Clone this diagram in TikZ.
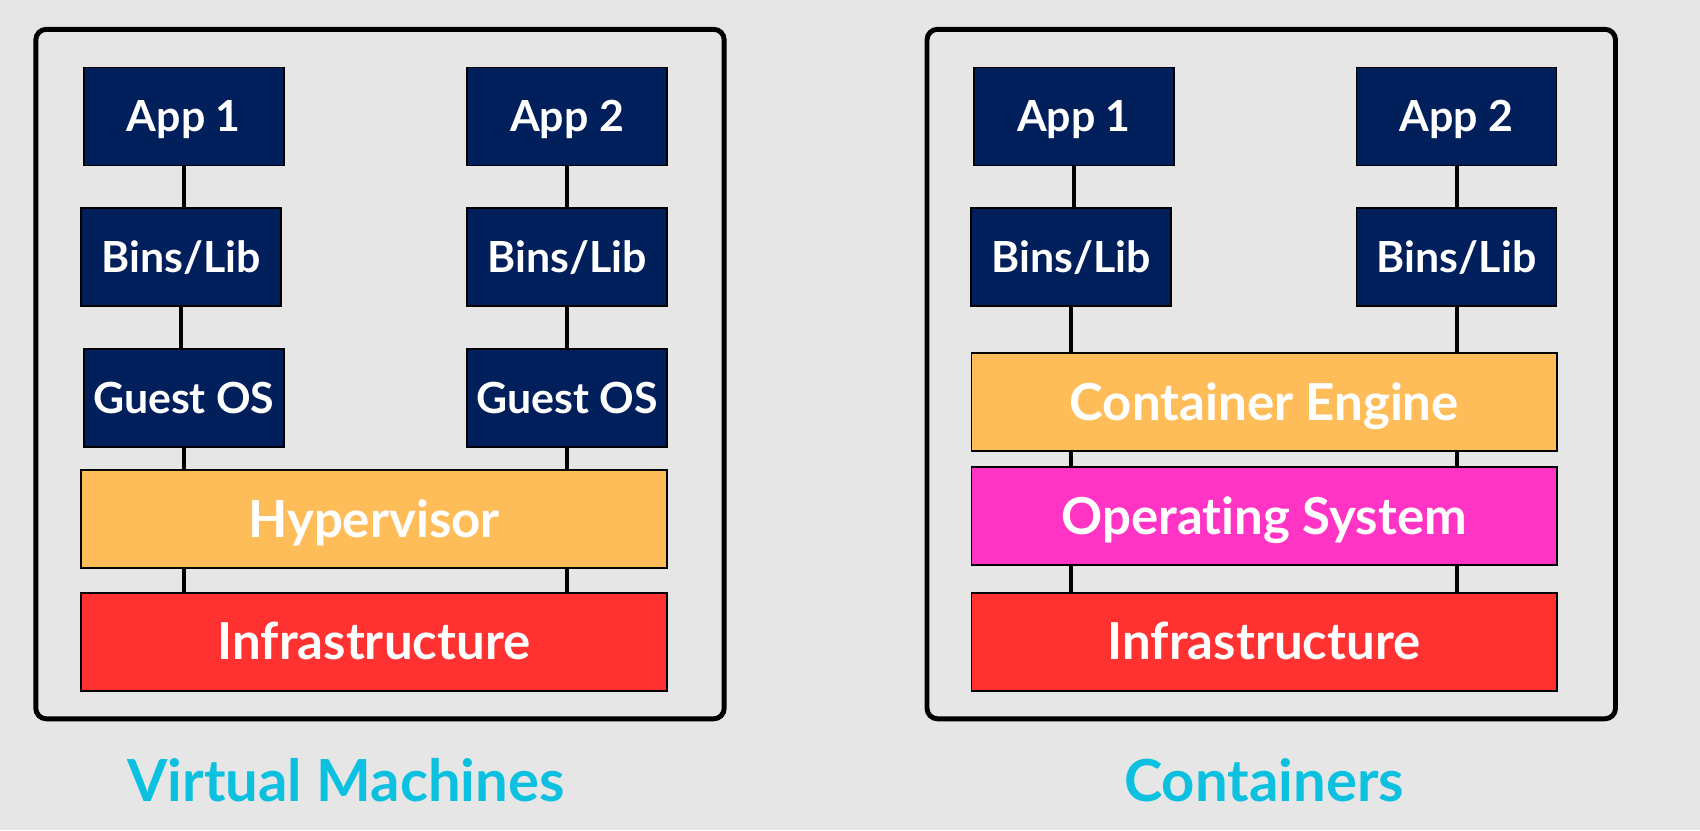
\documentclass[tikz,border=0pt]{standalone}
\usepackage{fontspec}
\setmainfont{Lato}[Ligatures=NoCommon]
\usepackage{tikz}
\usetikzlibrary{positioning}
\definecolor{bggray}{HTML}{E6E6E6}
\definecolor{navy}{HTML}{001F5B}
\definecolor{hypfill}{HTML}{FFBD59}
\definecolor{osfill}{HTML}{FF33C4}
\definecolor{infill}{HTML}{FF3131}
\definecolor{capcyan}{HTML}{0CC0DF}
\tikzset{
    layerbox/.style={draw=black, line width=0.5pt, text=white, font=\bfseries\fontsize{12.2}{14}\selectfont,
        minimum width=2cm, minimum height=0.98cm, inner sep=0pt, fill=navy,
        text height=8.7pt, text depth=0pt},
    widebox/.style={layerbox, minimum width=5.855cm, font=\bfseries\fontsize{14.5}{16}\selectfont,
        text height=10.2pt},
    frame/.style={draw=black, line width=1.4pt, rounded corners=3pt},
    caption/.style={text=capcyan, font=\bfseries\fontsize{16.5}{18}\selectfont},
    link/.style={draw=black, line width=1.1pt}
}
\begin{document}
\begin{tikzpicture}
    [x=1cm,y=1cm]
    \fill[bggray] (0,0) rectangle (17,8.3);
    \useasboundingbox (0,0) rectangle (17,8.3);
    % virtual machines
    \draw[frame] (0.358,1.112) rectangle (7.242,8.007);
    \node[layerbox] (vmapp1) at (1.838,7.135) {App 1};
    \node[layerbox] (vmapp2) at (5.67,7.135) {App 2};
    \node[layerbox] (vmbin1) at (1.81,5.73) {Bins/Lib};
    \node[layerbox] (vmbin2) at (5.67,5.73) {Bins/Lib};
    \node[layerbox] (vmos1) at (1.838,4.321) {Guest OS};
    \node[layerbox] (vmos2) at (5.67,4.321) {Guest OS};
    \node[widebox, fill=hypfill] (hyp) at (3.74,3.107) {Hypervisor};
    \node[widebox, fill=infill] (vminf) at (3.74,1.882) {Infrastructure};
    \foreach \i in {1,2} {
        \draw[link] (vmapp\i.south) -- (vmapp\i.south |- vmbin\i.north);
        \draw[link] (vmbin\i.south) -- (vmbin\i.south |- vmos\i.north);
        \draw[link] (vmos\i.south) -- (vmos\i.south |- hyp.north);
        \draw[link] (vmos\i.south |- hyp.south) -- (vmos\i.south |- vminf.north);
    }
    \node[caption] (vmcap) at (3.46,0.494) {Virtual Machines};
    % containers
    \draw[frame] (9.27,1.112) rectangle (16.155,8.007);
    \node[layerbox] (ctapp1) at (10.739,7.135) {App 1};
    \node[layerbox] (ctapp2) at (14.566,7.135) {App 2};
    \node[layerbox] (ctbin1) at (10.712,5.73) {Bins/Lib};
    \node[layerbox] (ctbin2) at (14.566,5.73) {Bins/Lib};
    \node[widebox, fill=hypfill] (eng) at (12.642,4.278) {Container Engine};
    \node[widebox, fill=osfill] (os) at (12.642,3.139) {Operating System};
    \node[widebox, fill=infill] (ctinf) at (12.642,1.882) {Infrastructure};
    \foreach \i in {1,2} {
        \draw[link] (ctapp\i.south) -- (ctapp\i.south |- ctbin\i.north);
        \draw[link] (ctbin\i.south) -- (ctbin\i.south |- eng.north);
        \draw[link] (ctbin\i.south |- eng.south) -- (ctbin\i.south |- os.north);
        \draw[link] (ctbin\i.south |- os.south) -- (ctbin\i.south |- ctinf.north);
    }
    \node[caption] (ctcap) at (12.64,0.494) {Containers};
\end{tikzpicture}
\end{document}
